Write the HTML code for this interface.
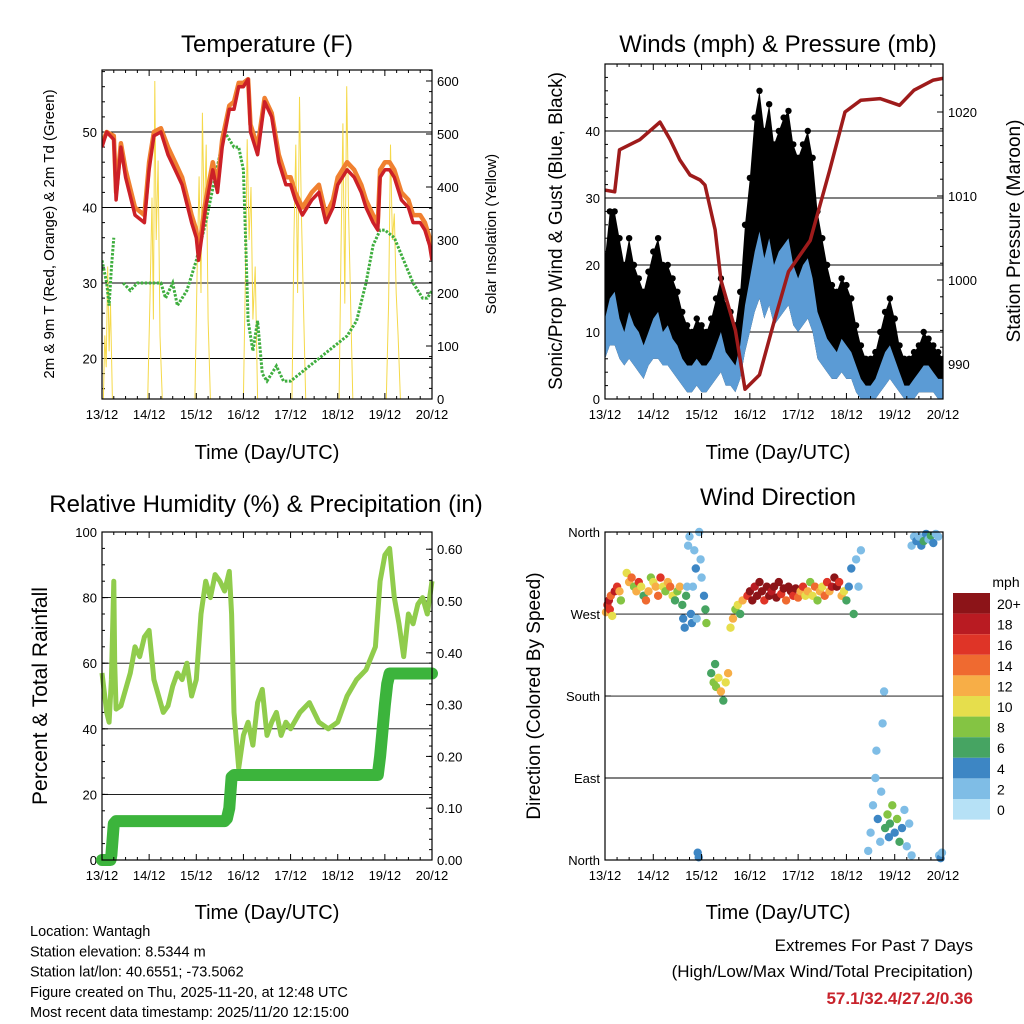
<!DOCTYPE html>
<html><head><meta charset="utf-8"><style>
html,body{margin:0;padding:0;background:#fff;}
svg{display:block;font-family:"Liberation Sans",sans-serif;}
</style></head><body>
<svg id="c" width="1024" height="1024" viewBox="0 0 1024 1024" xmlns="http://www.w3.org/2000/svg"></svg>
<script>
// ---------- DATA ----------
const dayLabels=["13/12","14/12","15/12","16/12","17/12","18/12","19/12","20/12"];
const solarT=[0.03,0.06,0.09,0.12,0.15,0.18,0.22,0.97,1.02,1.06,1.09,1.12,1.15,1.19,1.23,1.28,1.97,2.02,2.06,2.1,2.13,2.17,2.21,2.25,2.3,3.0,3.04,3.08,3.12,3.16,3.2,3.25,3.3,4.03,4.07,4.11,4.15,4.19,4.23,4.28,4.32,5.03,5.07,5.11,5.15,5.19,5.23,5.27,5.32,6.03,6.08,6.12,6.16,6.2,6.24,6.28,6.33];
const solarV=[0,120,60,250,90,180,0,0,200,380,150,600,300,450,120,0,0,250,420,200,540,330,480,150,0,0,220,490,300,400,150,250,0,0,300,480,200,570,350,150,0,0,280,520,180,590,350,200,0,0,180,480,300,350,200,120,0];
const tempT=[0,0.1,0.25,0.3,0.4,0.5,0.7,0.9,1.0,1.1,1.25,1.4,1.55,1.7,1.9,2.0,2.05,2.2,2.35,2.45,2.55,2.7,2.8,2.9,3.0,3.1,3.15,3.3,3.45,3.6,3.75,3.9,4.0,4.1,4.25,4.45,4.6,4.75,4.9,5.0,5.2,5.35,5.5,5.6,5.75,5.85,5.9,6.0,6.1,6.2,6.35,6.5,6.6,6.75,6.85,6.95,7.0];
const temp2m=[48,50,49,41,48,44,39,38,45,49.5,50,47,45,43,38,36,33,40,45,42,48,53,53,56,56,57,50,47,54,52,46,43,43,41,39,41,42,38,40,43,45,44,42,40,38,37,44,45,45,44,41,40,38,38,37,35,33];
const temp9m=[48.5,50,49.5,42,48.5,45,40,39,46,50,50.5,48,46,44,39,37,34,41,46,43,49,53.5,54,56.5,56.5,57,51,48,54.5,52.5,47,44,44,42,40,42,43,39,41,44,46,45,43,41,39,38,45,46,46,45,42,41,39,39,38,36,35];
const dewT=[0,0.1,0.15,0.2,0.25,0.3,0.45,0.6,0.75,1.0,1.25,1.35,1.5,1.6,1.8,2.0,2.2,2.4,2.5,2.6,2.8,2.9,3.0,3.05,3.1,3.2,3.3,3.4,3.5,3.7,3.85,4.0,4.2,4.4,4.6,4.8,5.0,5.2,5.4,5.6,5.75,5.9,6.0,6.2,6.4,6.6,6.8,6.9,7.0];
const dew=[33,30,27,32,36,null,30,29,30,30,30,28,30,27,29,33,38,44,47,50,48,48,45,35,25,21,25,18,17,19,17,17,18,19,20,21,22,23,25,30,35,37,37,36,33,30,28,28,29];
const windT=[0,0.1,0.2,0.3,0.4,0.5,0.6,0.7,0.8,0.9,1,1.1,1.2,1.3,1.4,1.5,1.6,1.7,1.8,1.9,2,2.1,2.2,2.3,2.4,2.5,2.6,2.7,2.8,2.9,3,3.1,3.2,3.3,3.4,3.5,3.6,3.7,3.8,3.9,4,4.1,4.2,4.3,4.4,4.5,4.6,4.7,4.8,4.9,5,5.1,5.2,5.3,5.4,5.5,5.6,5.7,5.8,5.9,6,6.1,6.2,6.3,6.4,6.5,6.6,6.7,6.8,6.9,7];
const gustHi=[21,28,28,24,20,24,20,18,16,19,22,24,20,20,18,16,13,11,10,12,11,10,12,15,18,14,13,11,16,26,33,42,46,40,44,38,40,42,43,38,36,38,40,36,28,24,20,17,16,18,17,15,11,8,6,6,7,10,13,15,12,8,6,6,7,8,10,9,8,7,6];
const windHi=[12,15,16,12,10,13,11,10,8,10,12,13,10,11,9,8,6,5,5,6,5,5,6,8,10,7,6,5,8,14,18,22,25,21,24,20,22,23,24,20,18,20,21,18,13,11,9,8,7,9,8,7,5,3,2,2,3,5,7,8,6,4,2,2,3,4,5,5,4,3,3];
const windLo=[6,8,8,6,5,6,5,4,3,5,6,6,5,5,4,3,2,1,1,2,1,1,2,3,4,2,2,1,3,7,10,13,15,12,14,11,12,13,14,11,10,11,12,10,6,5,4,3,3,4,3,3,1,0,0,0,0,1,2,3,2,1,0,0,0,1,1,1,1,0,0];
const presT=[0,0.2,0.3,0.72,1.14,1.35,1.55,1.76,1.97,2.07,2.28,2.4,2.7,2.9,3.2,3.5,3.8,4.25,4.65,4.97,5.3,5.7,6.1,6.4,6.8,7.0];
const pres=[1010.7,1010.5,1015.5,1016.7,1018.8,1016.7,1014.3,1012.5,1011.9,1011.3,1006,1000,994,987,988.7,995,1001,1004.7,1013,1020,1021.4,1021.6,1020.8,1022.6,1023.8,1024];
const rhT=[0,0.1,0.15,0.2,0.25,0.27,0.3,0.4,0.5,0.6,0.7,0.8,0.9,1.0,1.1,1.2,1.3,1.4,1.5,1.6,1.7,1.8,1.9,2.0,2.1,2.2,2.3,2.4,2.5,2.6,2.7,2.75,2.8,2.9,3.0,3.1,3.2,3.3,3.4,3.5,3.6,3.7,3.8,3.9,4.0,4.2,4.4,4.6,4.8,5.0,5.2,5.4,5.6,5.8,5.9,6.0,6.1,6.2,6.3,6.4,6.5,6.6,6.7,6.8,6.9,7.0];
const rh=[57,45,42,55,85,60,46,47,52,57,65,62,68,70,55,50,45,47,53,57,55,60,50,55,75,85,80,87,85,82,88,75,45,28,38,42,35,48,52,38,42,45,38,42,40,45,48,42,40,42,50,55,58,65,85,93,95,80,72,62,75,72,78,80,75,85];
const precT=[0,0.18,0.2,0.25,0.3,2.6,2.65,2.7,2.75,2.8,5.85,5.9,5.95,6.0,6.05,6.1,7.0];
const prec=[0,0,0.01,0.07,0.075,0.075,0.08,0.1,0.16,0.164,0.164,0.2,0.25,0.3,0.34,0.36,0.36];
const dirT=[0.02,0.05,0.08,0.1,0.12,0.15,0.2,0.25,0.3,0.33,0.45,0.5,0.55,0.6,0.65,0.7,0.75,0.8,0.85,0.9,0.95,1.0,1.05,1.1,1.15,1.2,1.25,1.3,1.35,1.4,1.45,1.5,1.55,1.6,1.62,1.65,1.68,1.7,1.72,1.75,1.78,1.8,1.82,1.85,1.88,1.9,1.92,1.94,1.95,1.98,2.0,2.05,2.08,2.1,2.2,2.25,2.28,2.3,2.35,2.4,2.45,2.5,2.55,2.6,2.65,2.7,2.75,2.8,2.85,2.95,3.0,3.05,3.1,3.15,3.2,3.25,3.3,3.35,3.4,3.45,3.5,3.55,3.6,3.65,3.7,3.75,3.8,3.85,3.9,3.95,4.0,4.05,4.1,4.15,4.2,4.25,4.3,4.35,4.4,4.45,4.5,4.55,4.6,4.65,4.7,4.75,4.8,4.85,4.9,4.95,5.0,5.05,5.1,5.15,5.2,5.25,5.3,5.45,5.5,5.55,5.6,5.62,5.65,5.7,5.72,5.75,5.78,5.8,5.85,5.88,5.9,5.95,6.0,6.05,6.1,6.15,6.2,6.25,6.3,6.35,6.35,6.4,6.45,6.5,6.55,6.6,6.65,6.7,6.75,6.8,6.85,6.9,6.92,6.95,6.98];
const dirDeg=[272,280,285,275,290,268,295,300,295,285,315,305,310,300,295,305,300,290,285,295,310,305,300,290,310,300,295,305,300,290,285,295,300,280,265,255,290,300,345,355,270,260,300,340,320,265,8,3,360,330,310,290,275,260,205,195,215,190,200,185,175,195,205,255,265,275,280,270,285,290,295,285,300,290,305,295,285,300,290,295,300,288,305,292,298,285,300,295,290,298,288,295,300,290,295,305,290,300,285,295,300,290,305,295,300,310,300,305,290,295,285,300,320,270,330,300,340,10,30,60,90,120,45,20,75,150,185,35,50,25,40,60,30,45,20,35,55,15,40,5,345,355,350,355,345,350,358,352,356,348,358,355,5,2,8];
const dirSpd=[12,16,18,16,14,10,18,16,12,8,10,12,14,8,12,16,10,6,14,12,8,10,12,14,16,10,8,12,14,10,6,8,12,6,4,4,6,3,2,3,4,4,2,3,4,3,4,4,2,3,2,4,6,8,6,8,6,8,10,12,6,10,12,10,12,8,10,6,12,16,20,20,18,20,20,20,16,20,20,18,20,20,20,16,20,14,20,20,16,20,14,12,16,10,12,8,10,14,8,12,10,14,16,12,18,20,20,16,12,10,6,4,4,6,3,2,2,3,2,2,3,2,4,3,2,2,2,6,8,4,6,8,4,8,6,4,2,3,2,2,2,3,4,2,4,6,4,2,6,4,2,3,2,4,2];
const speedColors=["#b6e1f6","#7fbde6","#3d86c4","#46a462","#84c443","#e6de4c","#f7ae47","#ef6a30","#df3427","#b91b22","#8c1418"];
const speedLabels=["0","2","4","6","8","10","12","14","16","18","20+"];

// ---------- HELPERS ----------
const svg=document.getElementById('c');
const NS='http://www.w3.org/2000/svg';
function mk(tag,attrs,parent){const e=document.createElementNS(NS,tag);for(const k in attrs)e.setAttribute(k,attrs[k]);(parent||svg).appendChild(e);return e;}
function txt(s,x,y,size,anchor,extra){const e=mk('text',Object.assign({x:x,y:y,'font-size':size,'text-anchor':anchor||'middle',fill:'#000'},extra||{}));e.textContent=s;return e;}
function pathFrom(ts,vs,xf,yf){let d='',pen=false;for(let i=0;i<ts.length;i++){if(vs[i]===null){pen=false;continue;}d+=(pen?'L':'M')+xf(ts[i]).toFixed(1)+','+yf(vs[i]).toFixed(1);pen=true;}return d;}
function bandFrom(ts,lo,hi,xf,yf){let d='';for(let i=0;i<ts.length;i++)d+=(i?'L':'M')+xf(ts[i]).toFixed(1)+','+yf(hi[i]).toFixed(1);for(let i=ts.length-1;i>=0;i--)d+='L'+xf(ts[i]).toFixed(1)+','+yf(lo[i]).toFixed(1);return d+'Z';}
function frame(x0,y0,x1,y1,name){const r=mk('rect',{x:x0,y:y0,width:x1-x0,height:y1-y0,fill:'none',stroke:'#000','stroke-width':1.2});}
function xAxis(x0,x1,yb,yt,name){
  const g=mk('g',{});
  const w=(x1-x0)/7;
  for(let d=0;d<=7;d++){const x=x0+d*w;mk('line',{x1:x,y1:yb,x2:x,y2:yb-6,stroke:'#000'},g);mk('line',{x1:x,y1:yt,x2:x,y2:yt+6,stroke:'#000'},g);
    const t=txt(dayLabels[d],x,yb+20,13,'middle');g.appendChild(t);
    if(d<7)for(let m=1;m<4;m++){const xm=x+m*w/4;mk('line',{x1:xm,y1:yb,x2:xm,y2:yb-3,stroke:'#000'},g);mk('line',{x1:xm,y1:yt,x2:xm,y2:yt+3,stroke:'#000'},g);}}
}
function yAxis(x,dir,vals,labels,yf,minor,name,grid){
  const g=mk('g',{});
  vals.forEach((v,i)=>{const y=yf(v);mk('line',{x1:x,y1:y,x2:x+dir*6,y2:y,stroke:'#000'},g);
    if(grid)mk('line',{x1:grid[0],y1:y,x2:grid[1],y2:y,stroke:'#000','stroke-width':0.9},g);
    const t=txt(labels[i],dir>0?x-5:x+5,y+5,13,dir>0?'end':'start');g.appendChild(t);});
  minor.forEach(v=>{const y=yf(v);mk('line',{x1:x,y1:y,x2:x+dir*3,y2:y,stroke:'#000'},g);});
}
function clip(id,x0,y0,x1,y1){const cp=mk('clipPath',{id:id});mk('rect',{x:x0,y:y0,width:x1-x0,height:y1-y0},cp);}
function named(e,n){return e;}
function range(a,b,s){const r=[];for(let v=a;v<=b+1e-9;v+=s)r.push(+v.toFixed(3));return r;}

// ---------- PANEL 1: Temperature ----------
{const X0=102,X1=432,Y0=70,Y1=399;
 const x=t=>X0+t*(X1-X0)/7, yT=v=>132-(v-50)*7.55, yS=v=>399-v*0.53;
 clip('cp1',X0,Y0,X1,Y1);
 named(txt('Temperature (F)',267,52,24),'temperature-title');
 yAxis(X0,1,[20,30,40,50],['20','30','40','50'],yT,range(16,58,2),'temp-left-axis',[X0,X1]);
 yAxis(X1,-1,[0,100,200,300,400,500,600],['0','100','200','300','400','500','600'],yS,range(20,620,20),'solar-right-axis');
 const g=mk('g',{'clip-path':'url(#cp1)'});named(g,'temperature-series');
 named(mk('path',{d:pathFrom(solarT,solarV,x,yS),fill:'none',stroke:'#f5d94a','stroke-width':1},g),'solar-line');
 named(mk('path',{d:pathFrom(dewT,dew,x,yT),fill:'none',stroke:'#3fae3f','stroke-width':3,'stroke-dasharray':'2.5 1.5'},g),'dewpoint-line');
 named(mk('path',{d:pathFrom(tempT,temp9m,x,yT),fill:'none',stroke:'#f08030','stroke-width':4.5,'stroke-linejoin':'round'},g),'temp-9m-line');
 named(mk('path',{d:pathFrom(tempT,temp2m,x,yT),fill:'none',stroke:'#cc2027','stroke-width':3.5,'stroke-linejoin':'round'},g),'temp-2m-line');
 frame(X0,Y0,X1,Y1,'temperature-plot-frame');xAxis(X0,X1,Y1,Y0,'temp-x-axis');
 named(txt('Time (Day/UTC)',267,459,20),'temp-x-title');
 named(txt('2m & 9m T (Red, Orange) & 2m Td (Green)',0,0,15,'middle',{transform:'translate(54,234) rotate(-90)'}),'temp-y-title');
 named(txt('Solar Insolation (Yellow)',0,0,15,'middle',{transform:'translate(496,234) rotate(-90)'}),'solar-y-title');
}
// ---------- PANEL 2: Winds ----------
{const X0=605,X1=943,Y0=64,Y1=399;
 const x=t=>X0+t*(X1-X0)/7, yW=v=>399-v*6.7, yP=p=>364-(p-990)*8.4;
 clip('cp2',X0,Y0,X1,Y1);
 named(txt('Winds (mph) & Pressure (mb)',778,52,24),'winds-title');
 yAxis(X0,1,[0,10,20,30,40],['0','10','20','30','40'],yW,range(0,50,2),'wind-left-axis',[X0,X1]);
 yAxis(X1,-1,[990,1000,1010,1020],['990','1000','1010','1020'],yP,range(986,1024,2),'pressure-right-axis');
 const g=mk('g',{'clip-path':'url(#cp2)'});named(g,'wind-series');
 named(mk('path',{d:bandFrom(windT,windLo,gustHi,x,yW),fill:'#000'},g),'gust-band');
 const gd=mk('g',{},g);named(gd,'gust-points');
 for(let i=0;i<windT.length;i++){const c=mk('circle',{cx:x(windT[i]),cy:yW(gustHi[i]),r:3.2,fill:'#000'},gd);}
 named(mk('path',{d:bandFrom(windT,windLo,windHi,x,yW),fill:'#5b9bd5'},g),'wind-band');
 named(mk('path',{d:pathFrom(presT,pres,x,yP),fill:'none',stroke:'#9e1b1b','stroke-width':3.5,'stroke-linejoin':'round'},g),'pressure-line');
 frame(X0,Y0,X1,Y1,'winds-plot-frame');xAxis(X0,X1,Y1,Y0,'winds-x-axis');
 named(txt('Time (Day/UTC)',778,459,20),'winds-x-title');
 named(txt('Sonic/Prop Wind & Gust (Blue, Black)',0,0,19,'middle',{transform:'translate(562,231) rotate(-90)'}),'wind-y-title');
 named(txt('Station Pressure (Maroon)',0,0,19,'middle',{transform:'translate(1020,231) rotate(-90)'}),'pressure-y-title');
}
// ---------- PANEL 3: RH ----------
{const X0=102,X1=432,Y0=532,Y1=860;
 const x=t=>X0+t*(X1-X0)/7, yR=v=>860-v*3.28, yP=v=>860-v*518;
 clip('cp3',X0-8,Y0,X1+8,Y1+8);
 named(txt('Relative Humidity (%) & Precipitation (in)',266,512,24),'rh-title');
 yAxis(X0,1,[0,20,40,60,80,100],['0','20','40','60','80','100'],yR,range(0,100,5),'rh-left-axis',[X0,X1]);
 yAxis(X1,-1,[0,0.1,0.2,0.3,0.4,0.5,0.6],['0.00','0.10','0.20','0.30','0.40','0.50','0.60'],yP,range(0,0.6,0.02),'precip-right-axis');
 const g=mk('g',{'clip-path':'url(#cp3)'});named(g,'rh-series');
 named(mk('path',{d:pathFrom(rhT,rh,x,yR),fill:'none',stroke:'#90cc4c','stroke-width':5,'stroke-linejoin':'round'},g),'rh-line');
 named(mk('path',{d:pathFrom(precT,prec,x,yP),fill:'none',stroke:'#3cb43c','stroke-width':12,'stroke-linejoin':'round','stroke-linecap':'round'},g),'precip-line');
 frame(X0,Y0,X1,Y1,'rh-plot-frame');xAxis(X0,X1,Y1,Y0,'rh-x-axis');
 named(txt('Time (Day/UTC)',267,919,20),'rh-x-title');
 named(txt('Percent & Total Rainfall',0,0,21,'middle',{transform:'translate(47,696) rotate(-90)'}),'rh-y-title');
}
// ---------- PANEL 4: Wind direction ----------
{const X0=605,X1=943,Y0=532,Y1=860;
 const x=t=>X0+t*(X1-X0)/7, yD=d=>860-d*0.911;
 named(txt('Wind Direction',778,505,24),'direction-title');
 yAxis(X0,1,[0,90,180,270,360],['North','East','South','West','North'],yD,[],'direction-left-axis',[X0,X1]);
 const g=mk('g',{});named(g,'direction-points');
 for(let i=0;i<dirT.length;i++){const col=speedColors[Math.min(10,Math.floor(dirSpd[i]/2))];const c=mk('circle',{cx:x(dirT[i]).toFixed(1),cy:yD(dirDeg[i]).toFixed(1),r:3.8,fill:col,stroke:col,'stroke-width':0.8},g);}
 frame(X0,Y0,X1,Y1,'direction-plot-frame');xAxis(X0,X1,Y1,Y0,'direction-x-axis');
 named(txt('Time (Day/UTC)',778,919,20),'direction-x-title');
 named(txt('Direction (Colored By Speed)',0,0,19,'middle',{transform:'translate(540,696) rotate(-90)'}),'direction-y-title');
 const lg=mk('g',{});named(lg,'speed-legend');
 named(txt('mph',1006,587,14),'legend-unit');
 for(let k=10;k>=0;k--){const yy=593+(10-k)*20.6;
   const r=mk('rect',{x:953,y:yy,width:37,height:20.6,fill:speedColors[k]},lg);
   const t=txt(speedLabels[k],997,yy+16,14,'start');lg.appendChild(t);}
}
// ---------- FOOTER ----------
{const lines=['Location: Wantagh','Station elevation: 8.5344 m','Station lat/lon: 40.6551; -73.5062','Figure created on Thu, 2025-11-20, at 12:48 UTC','Most recent data timestamp: 2025/11/20 12:15:00'];
 const names=['location-text','elevation-text','latlon-text','created-text','timestamp-text'];
 lines.forEach((s,i)=>{named(txt(s,30,936+i*20.3,14.5,'start'),names[i]);});
 named(txt('Extremes For Past 7 Days',973,951,17,'end'),'extremes-heading');
 named(txt('(High/Low/Max Wind/Total Precipitation)',973,977,17,'end'),'extremes-subheading');
 named(txt('57.1/32.4/27.2/0.36',973,1004,17,'end',{fill:'#c8232c','font-weight':'bold'}),'extremes-values');
}
</script>
</body></html>
